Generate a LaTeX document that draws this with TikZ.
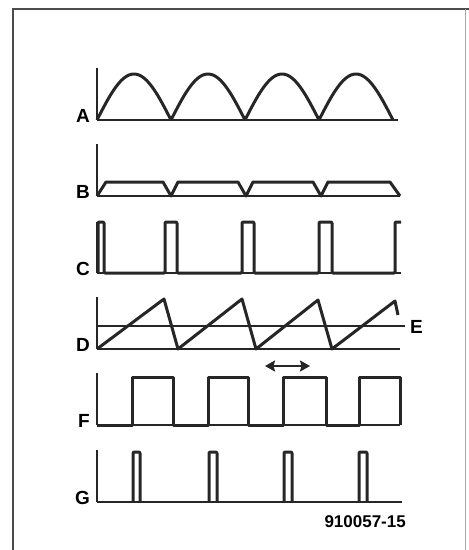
\documentclass[tikz,border=0pt]{standalone}
\usepackage{fontspec}
\setsansfont{Liberation Sans}
\usetikzlibrary{arrows.meta}

\begin{document}
\begin{tikzpicture}[
    x=1pt, y=-1pt,
    lbl/.style={anchor=base east, inner sep=0pt,
                font=\fontsize{19}{19}\selectfont\sffamily\bfseries},
    axis/.style={line width=1.9pt, black!85},
    base/.style={line width=2.6pt, black!85},
    wave/.style={line width=3pt, black!85, line join=round},
    thin/.style={line width=1.7pt, black!85},
    frame/.style={line width=2pt, black!70},
    arr/.style={{Stealth[length=10pt, width=11pt, inset=1.5pt]}-{Stealth[length=10pt, width=11pt, inset=1.5pt]},
                line width=2.6pt, black!85},
]
    \useasboundingbox (0,0) rectangle (469,550);

    %==================== FRAME ====================
    \draw[frame] (13,550) -- (13,9) -- (469,9);
    \draw[line width=1pt, black!35] (465,9) -- (465,550);

    %==================== A: rectified sine ====================
    \node[lbl] (labA) at (90,122) {A};
    \draw[axis] (97,68) -- (97,120);
    \draw[base] (97,120) -- (398,120);
    \draw[wave] plot[domain=0:296, samples=240]
        ({97+\x}, {120-46*abs(sin(\x/74*180))});

    %==================== B: clipped ====================
    \node[lbl] (labB) at (90,198) {B};
    \draw[axis] (97,144) -- (97,196);
    \draw[base] (97,196) -- (400,196);
    \draw[wave] (97,196) -- (106,182) -- (163,182) -- (171,196) -- (178,182)
        -- (238,182) -- (246,196) -- (253,182) -- (313,182) -- (321,196)
        -- (328,182) -- (390,182) -- (400,196);

    %==================== C: narrow pulses ====================
    \node[lbl] (labC) at (90,275) {C};
    \draw[axis] (97,222) -- (97,273);
    \draw[base] (97,273) -- (401,273);
    \draw[wave, rounded corners=1pt] (98,273) -- (98,222) -- (104,222) -- (104,273)
        -- (165,273) -- (165,222) -- (177,222) -- (177,273)
        -- (242,273) -- (242,222) -- (254,222) -- (254,273)
        -- (319,273) -- (319,222) -- (332,222) -- (332,273)
        -- (395,273) -- (395,222) -- (401,222);

    %==================== D: sawtooth + E level ====================
    \node[lbl] (labD) at (90,351) {D};
    \draw[axis] (97,297) -- (97,349);
    \draw[base] (97,349) -- (400,349);
    \draw[thin] (97,326) -- (405,326);
    \node[anchor=west, inner sep=0pt, font=\fontsize{19}{19}\selectfont\sffamily\bfseries]
        (labE) at (410,327) {E};
    \draw[wave] (97,349) -- (164,299) -- (178,349) -- (242,299) -- (256,349)
        -- (318,300) -- (332,349) -- (395,301) -- (398,315);

    %==================== F: comparator output ====================
    \node[lbl] (labF) at (90,427) {F};
    \draw[axis] (97,373) -- (97,425);
    \draw[base] (97,425) -- (400,425);
    \draw[wave] (97,425) -- (132,425) -- (132,377) -- (173,377) -- (173,425)
        -- (208,425) -- (208,377) -- (248,377) -- (248,425)
        -- (283,425) -- (283,377) -- (326,377) -- (326,425)
        -- (359,425) -- (359,377) -- (400,377) -- (400,425);

    % adjustable width
    \coordinate (arrL) at (265,366);
    \coordinate (arrR) at (310,366);
    \draw[arr] (arrL) -- (arrR);

    %==================== G: trigger pulses ====================
    \node[lbl] (labG) at (90,504) {G};
    \draw[axis] (97,450) -- (97,502);
    \draw[base] (97,502) -- (402,502);
    \draw[wave, rounded corners=1pt] (133,502) -- (133,452) -- (140,452) -- (140,502);
    \draw[wave, rounded corners=1pt] (209,502) -- (209,452) -- (217,452) -- (217,502);
    \draw[wave, rounded corners=1pt] (284,502) -- (284,452) -- (292,452) -- (292,502);
    \draw[wave, rounded corners=1pt] (359,502) -- (359,452) -- (367,452) -- (367,502);

    %==================== figure number ====================
    \node[anchor=base east, inner sep=0pt, font=\fontsize{17}{17}\selectfont\sffamily\bfseries]
        (fignum) at (406,527) {910057-15};

\end{tikzpicture}
\end{document}
